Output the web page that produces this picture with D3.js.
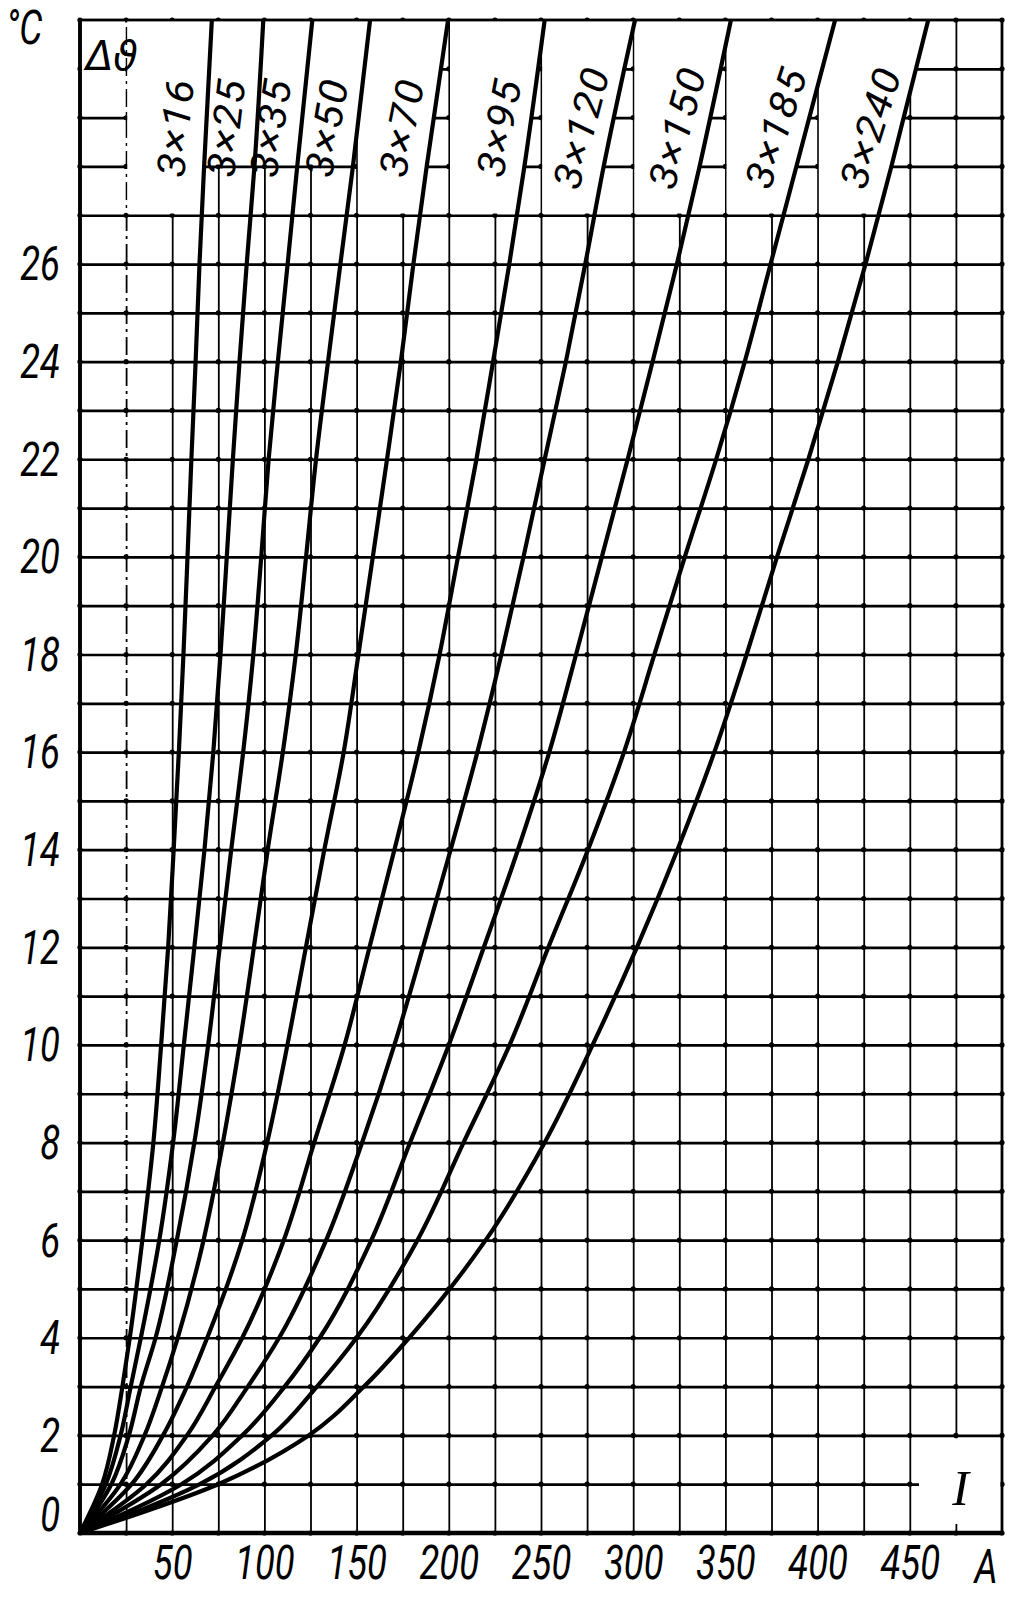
<!DOCTYPE html>
<html>
<head>
<meta charset="utf-8">
<script src="https://cdn.jsdelivr.net/npm/d3@7"></script>
<style>
  body { margin: 0; background: #fff; }
  svg { display: block; background: #fff; }
  .hand { font-family: Roboto, 'DejaVu Sans', sans-serif; font-weight: 400; font-style: italic; fill: #000; }
</style>
</head>
<body>
<svg id="chart" width="1027" height="1601"></svg>
<script>
const dtLevels = [0, 1, 2, 3, 4, 6, 8, 10, 12, 14, 16, 18, 20, 22, 24, 26, 28, 31];

// Load current I (A) for each cable at the levels above
const i3x16  = [0, 12, 18.5, 23, 27, 33.8, 39.8, 44, 47.8, 50.8, 53.6, 56.1, 58.3, 60.4, 62.7, 64.8, 67.3, 71.5];
const i3x25  = [0, 14, 22, 27.5, 33, 43, 50.5, 56.3, 62, 67.5, 72.3, 76.2, 79.6, 82.9, 86.5, 90.4, 94.6, 99.4];
const i3x35  = [0, 17, 26.5, 33, 41, 52.5, 62, 69.5, 75.8, 82, 88.5, 94, 98.3, 102.3, 107.3, 112.6, 117.8, 126];
const i3x50  = [0, 22, 35, 44.5, 53, 67, 77.5, 86.5, 94.3, 101.8, 110, 117, 122.6, 128, 134.5, 141.2, 148, 157.3];
const i3x70  = [0, 28, 45, 58, 69, 88, 101.5, 112.5, 122.5, 132.5, 143, 151, 158.8, 166.5, 174, 180.8, 188, 199.6];
const i3x95  = [0, 36, 58, 73.5, 88, 110.5, 127, 143.5, 157, 170.5, 183.5, 195, 205, 215, 224, 232.8, 241, 252];
const i3x120 = [0, 44, 72, 91, 108, 133.5, 153, 170.5, 186, 201, 215.5, 228.5, 240.5, 252, 263.5, 274, 284, 301];
const i3x150 = [0, 55, 88, 111, 130, 158, 179, 200, 219, 237.5, 254.5, 269, 283, 297, 310.5, 323.7, 336, 353];
const i3x185 = [0, 65, 104, 128.5, 150, 183, 208, 233, 254, 275.5, 295, 311.5, 328, 345, 360.5, 374.5, 388.5, 409.5];
const i3x240 = [0, 75, 124, 154, 178.5, 220, 252, 278, 302, 324, 344, 361.5, 378, 395, 411, 426, 440, 460];

const cables = ['3×16', '3×25', '3×35', '3×50', '3×70', '3×95', '3×120', '3×150', '3×185', '3×240'];
const currents = [i3x16, i3x25, i3x35, i3x50, i3x70, i3x95, i3x120, i3x150, i3x185, i3x240];

const xTickLabels = [50, 100, 150, 200, 250, 300, 350, 400, 450];
const yTickLabels = [0, 2, 4, 6, 8, 10, 12, 14, 16, 18, 20, 22, 24, 26];

// label boxes: left edge on a grid line (A) or on the previous curve (null), lower edge in °C
const boxLeftAmp = [25, null, null, null, 150, 200, 250, 300, 350, 400];
const boxBottom = [27, 28, 28, 28, 27, 27, 27, 27, 27, 27];

const narrow = 0.76; // squeeze for the drafting-style lettering

const x = d3.scaleLinear().domain([0, 500]).range([80, 1002]);
const y = d3.scaleLinear().domain([0, 31]).range([1533, 20]);

const svg = d3.select('#chart');

// grid, vertical
const gridX = svg.append('g')
  .attr('transform', `translate(0,${y(0)})`)
  .call(d3.axisBottom(x).tickValues(d3.range(25, 500, 25)).tickSize(-(y(0) - y(31))).tickFormat(''));
gridX.select('.domain').remove();
gridX.selectAll('line')
  .attr('stroke', '#000')
  .attr('stroke-width', 1.8)
  .attr('stroke-dasharray', d => (d === 25 ? '18,5,3,5' : null));

// grid, horizontal
const gridY = svg.append('g')
  .attr('transform', `translate(${x(0)},0)`)
  .call(d3.axisLeft(y).tickValues(d3.range(1, 31)).tickSize(-(x(500) - x(0))).tickFormat(''));
gridY.select('.domain').remove();
gridY.selectAll('line').attr('stroke', '#000').attr('stroke-width', 2.7);

// little blobs where the grid lines cross
const nodes = [];
d3.range(0, 501, 25).forEach(a => d3.range(0, 32).forEach(t => nodes.push([a, t])));
svg.append('g')
  .selectAll('circle')
  .data(nodes)
  .join('circle')
  .attr('cx', d => x(d[0]))
  .attr('cy', d => y(d[1]))
  .attr('r', 2.6)
  .attr('fill', '#000');

function ampAt(k, t) {
  return d3.scaleLinear().domain(dtLevels).range(currents[k])(t);
}

// white boxes that hold the curve names
const boxes = svg.append('g').attr('fill', '#fff');
cables.forEach((c, k) => {
  const ts = d3.range(boxBottom[k], 31.001, 0.25);
  const left = ts.map(t => [
    boxLeftAmp[k] !== null ? x(boxLeftAmp[k]) + 1.2 : x(ampAt(k - 1, t)),
    t === boxBottom[k] ? y(t) - 1.8 : y(t)
  ]);
  const right = ts.map(t => [x(ampAt(k, t)), t === boxBottom[k] ? y(t) - 1.8 : y(t)]).reverse();
  boxes.append('path').attr('d', 'M' + left.concat(right).join('L') + 'Z');
});
boxes.append('rect')
  .attr('x', x(0) + 2).attr('y', y(31))
  .attr('width', x(25) - x(0) - 3).attr('height', y(29) - y(31) - 1.8);
boxes.append('rect')
  .attr('x', x(455)).attr('y', y(2) + 3)
  .attr('width', x(500) - x(455) - 1.5).attr('height', y(0) - y(2) - 12);

// curves
const line = d3.line()
  .x(d => x(d[0]))
  .y(d => y(d[1]))
  .curve(d3.curveMonotoneY);

svg.append('g')
  .selectAll('path')
  .data(currents)
  .join('path')
  .attr('d', d => line(d.map((a, i) => [a, dtLevels[i]])))
  .attr('fill', 'none')
  .attr('stroke', '#000')
  .attr('stroke-width', 4.2)
  .attr('stroke-linejoin', 'round');

// frame
svg.append('rect')
  .attr('x', x(0)).attr('y', y(31))
  .attr('width', x(500) - x(0)).attr('height', y(0) - y(31))
  .attr('fill', 'none').attr('stroke', '#000').attr('stroke-width', 2.8);
svg.append('line')
  .attr('x1', x(0)).attr('x2', x(0)).attr('y1', y(31)).attr('y2', y(0))
  .attr('stroke', '#000').attr('stroke-width', 3.8);
svg.append('line')
  .attr('x1', x(0)).attr('x2', x(500)).attr('y1', y(0)).attr('y2', y(0))
  .attr('stroke', '#000').attr('stroke-width', 4.4);

// curve names, stretched along the curve and thinned across it
cables.forEach((c, k) => {
  const t = 28.8;
  const dx = x(ampAt(k, 31)) - x(ampAt(k, 27));
  const dy = y(31) - y(27);
  const ang = Math.atan2(dy, dx) * 180 / Math.PI + 3;
  svg.append('text')
    .attr('class', 'hand')
    .attr('transform', `translate(${x(ampAt(k, t)) - 31},${y(t)}) rotate(${ang}) scale(0.86,0.78)`)
    .attr('text-anchor', 'middle')
    .attr('dy', '0.36em')
    .attr('font-size', 50)
    .attr('letter-spacing', 2)
    .text(c);
});

// axes labels
const yPad = 20;
const yAxis = svg.append('g')
  .attr('transform', `translate(${x(0)},0)`)
  .call(d3.axisLeft(y).tickValues(yTickLabels).tickSize(0).tickPadding(yPad));
yAxis.select('.domain').remove();
yAxis.selectAll('text')
  .attr('class', 'hand')
  .attr('font-size', 48)
  .attr('x', -yPad / narrow)
  .attr('transform', `scale(${narrow},1)`)
  .attr('dy', d => (d === 0 ? '-0.05em' : '0.33em'));

const xAxis = svg.append('g')
  .attr('transform', `translate(0,${y(0)})`)
  .call(d3.axisBottom(x).tickValues(xTickLabels).tickSize(0).tickPadding(12));
xAxis.select('.domain').remove();
xAxis.selectAll('text')
  .attr('class', 'hand')
  .attr('font-size', 48)
  .attr('transform', `scale(${narrow},1)`);

svg.append('text')
  .attr('class', 'hand')
  .attr('transform', `translate(${x(500) - 16},${y(0) + 50}) scale(${narrow},1)`)
  .attr('text-anchor', 'middle')
  .attr('font-size', 48)
  .text('A');

svg.append('text')
  .attr('class', 'hand')
  .attr('transform', `translate(6,44) scale(${narrow},1)`)
  .attr('font-size', 48)
  .text('°C');

svg.append('text')
  .attr('x', x(0) + 6).attr('y', y(31) + 50)
  .attr('font-family', 'DejaVu Sans')
  .attr('font-style', 'italic')
  .attr('font-size', 40)
  .text('Δϑ');

svg.append('text')
  .attr('x', x(477.5)).attr('y', y(0.57))
  .attr('text-anchor', 'middle')
  .attr('font-family', 'Liberation Serif')
  .attr('font-style', 'italic')
  .attr('font-size', 50)
  .text('I');
</script>
</body>
</html>
